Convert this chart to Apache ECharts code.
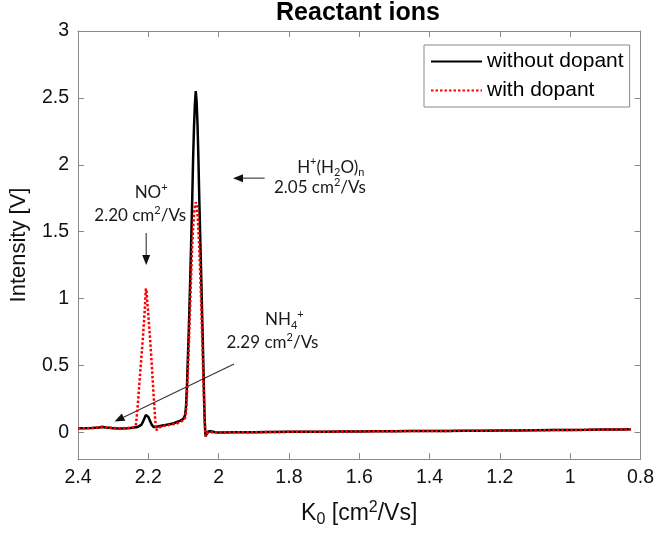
<!DOCTYPE html>
<html><head><meta charset="utf-8">
<script src="https://cdn.jsdelivr.net/npm/echarts@6/dist/echarts.min.js"></script>
<style>html,body{margin:0;padding:0;background:#fff}#c{width:657px;height:534px}</style>
</head><body><div id="c"></div>
<script>
// K0 values (cm^2/Vs)
const kValues = [
  2.40, 2.38, 2.36, 2.34, 2.33, 2.32, 2.30, 2.28, 2.26, 2.25,
  2.245, 2.24, 2.235, 2.23, 2.225, 2.22, 2.215, 2.21, 2.207, 2.205,
  2.20, 2.195, 2.19, 2.185, 2.18, 2.177, 2.17, 2.16, 2.15, 2.14,
  2.13, 2.12, 2.11, 2.10, 2.095, 2.0925, 2.09, 2.0875, 2.085, 2.0825,
  2.08, 2.0775, 2.075, 2.0725, 2.07, 2.0675, 2.065, 2.0625, 2.06, 2.0575,
  2.055, 2.0525, 2.05, 2.0475, 2.045, 2.0425, 2.04, 2.0375, 2.035, 2.0325,
  2.03, 2.0275, 2.025, 2.0225, 2.02, 2.01, 2.00, 1.95, 1.90, 1.85,
  1.80, 1.75, 1.70, 1.65, 1.60, 1.55, 1.50, 1.45, 1.40, 1.35,
  1.30, 1.25, 1.20, 1.15, 1.10, 1.05, 1.00, 0.95, 0.90, 0.85, 0.827
];
// Intensity [V] without dopant (black solid)
const withoutDopant = [
  0.030, 0.030, 0.032, 0.035, 0.040, 0.036, 0.030, 0.028, 0.030, 0.032,
  0.034, 0.036, 0.038, 0.040, 0.045, 0.055, 0.080, 0.110, 0.130, 0.130,
  0.115, 0.085, 0.055, 0.040, 0.035, 0.040, 0.045, 0.050, 0.055, 0.060,
  0.065, 0.075, 0.085, 0.100, 0.130, 0.200, 0.350, 0.550, 0.750, 0.980,
  1.220, 1.480, 1.750, 2.050, 2.280, 2.450, 2.550, 2.470, 2.300, 2.050,
  1.750, 1.480, 1.220, 0.950, 0.680, 0.400, 0.120, -0.030, -0.040, -0.020,
  0.005, 0.015, 0.015, 0.008, 0.000, 0.000, -0.002, 0.000, 0.000, 0.002,
  0.003, 0.004, 0.004, 0.005, 0.006, 0.007, 0.008, 0.009, 0.010, 0.010,
  0.011, 0.012, 0.013, 0.014, 0.015, 0.016, 0.017, 0.018, 0.020, 0.021, 0.022
];
// Intensity [V] with dopant (red dotted)
const withDopant = [
  0.030, 0.030, 0.032, 0.038, 0.042, 0.036, 0.032, 0.030, 0.032, 0.034,
  0.036, 0.040, 0.060, 0.200, 0.380, 0.550, 0.720, 0.920, 1.075, 1.050,
  0.880, 0.700, 0.500, 0.280, 0.080, 0.015, 0.035, 0.045, 0.050, 0.055,
  0.060, 0.065, 0.075, 0.090, 0.110, 0.160, 0.280, 0.450, 0.620, 0.820,
  1.020, 1.220, 1.400, 1.530, 1.630, 1.690, 1.720, 1.700, 1.630, 1.520,
  1.380, 1.200, 1.000, 0.780, 0.550, 0.320, 0.100, -0.030, -0.040, -0.020,
  0.000, 0.005, 0.005, 0.000, -0.005, 0.000, 0.000, 0.000, 0.000, 0.002,
  0.003, 0.004, 0.004, 0.005, 0.006, 0.007, 0.008, 0.009, 0.010, 0.010,
  0.011, 0.012, 0.013, 0.014, 0.015, 0.016, 0.017, 0.018, 0.020, 0.021, 0.022
];
const yTicks = [0, 0.5, 1, 1.5, 2, 2.5, 3];
const seriesNames = ['without dopant', 'with dopant'];

// annotations: text lines anchored in data coordinates [K0, intensity]
const annotationTexts = [
  { text: 'H{sup|+}(H{sub|2}O){sub|n}', at: [1.681, 1.98] },
  { text: '2.05 cm{sup|2}/Vs', at: [1.712, 1.83] },
  { text: 'NO{sup|+}', at: [2.192, 1.79] },
  { text: '2.20 cm{sup|2}/Vs', at: [2.223, 1.62] },
  { text: 'NH{sub|4}{sup|+}', at: [1.813, 0.84] },
  { text: '2.29 cm{sup|2}/Vs', at: [1.847, 0.67] }
];
const annotationArrows = [
  { from: [1.869, 1.90], to: [1.959, 1.90] },
  { from: [2.206, 1.49], to: [2.206, 1.25] },
  { from: [1.956, 0.51], to: [2.296, 0.08] }
];

const FONT = 'Liberation Sans, Arial, Helvetica, sans-serif';
const AXC = '#8a8a8a';
const chart = echarts.init(document.getElementById('c'));

function xAx(pos, extra) {
  return Object.assign({
    type: 'value', min: 0.8, max: 2.4, interval: 0.2, inverse: true, position: pos,
    axisLine: { show: true, onZero: false, lineStyle: { color: AXC, width: 1 } },
    axisTick: { show: true, inside: true, length: 6, lineStyle: { color: AXC } },
    splitLine: { show: false },
    axisLabel: { show: false }
  }, extra);
}
function yAx(pos, extra) {
  return Object.assign({
    type: 'value', min: -0.2, max: 3, position: pos,
    axisLine: { show: true, onZero: false, lineStyle: { color: AXC, width: 1 } },
    axisTick: { show: true, inside: true, length: 6, customValues: yTicks, lineStyle: { color: AXC } },
    splitLine: { show: false },
    axisLabel: { show: false, customValues: yTicks }
  }, extra);
}

chart.setOption({
  animation: false,
  backgroundColor: '#fff',
  title: {
    text: 'Reactant ions', left: 358, top: 1, padding: 0, textAlign: 'center',
    textStyle: { fontFamily: FONT, fontSize: 25, fontWeight: 'bold', color: '#000' }
  },
  legend: {
    data: seriesNames, orient: 'vertical', left: 424, top: 45,
    padding: [6, 6, 6, 6], itemWidth: 51, itemHeight: 20, itemGap: 8,
    borderColor: AXC, borderWidth: 1, backgroundColor: '#fff',
    itemStyle: { opacity: 0 },
    textStyle: { fontFamily: FONT, fontSize: 21, color: '#000' }
  },
  grid: { left: 73, right: 14, top: 31, bottom: 75 },
  xAxis: [
    xAx('bottom', {
      axisLabel: { show: true, fontFamily: FONT, fontSize: 19.5, color: '#111', margin: 9 },
      name: 'K{sub|0} [cm{sup|2}/Vs]', nameLocation: 'middle', nameGap: 41,
      nameTextStyle: {
        fontFamily: FONT, fontSize: 23, color: '#111', lineHeight: 28,
        rich: {
          sub: { fontFamily: FONT, fontSize: 16, color: '#111', verticalAlign: 'bottom', lineHeight: 14 },
          sup: { fontFamily: FONT, fontSize: 16, color: '#111', verticalAlign: 'top', lineHeight: 14 }
        }
      }
    }),
    xAx('top', {})
  ],
  yAxis: [
    yAx('left', {
      axisLabel: { show: true, customValues: yTicks, fontFamily: FONT, fontSize: 19.5, color: '#111', margin: 9 },
      name: 'Intensity [V]', nameLocation: 'middle', nameGap: 48,
      nameTextStyle: { fontFamily: FONT, fontSize: 22, color: '#111' }
    }),
    yAx('right', {})
  ],
  series: [
    {
      name: seriesNames[0], type: 'line', xAxisIndex: 0, yAxisIndex: 0,
      data: kValues.map((k, i) => [k, withoutDopant[i]]),
      symbol: 'none', showSymbol: false, smooth: false,
      lineStyle: { color: '#000', width: 2.5 }, itemStyle: { color: '#000' }
    },
    {
      name: seriesNames[1], type: 'line', xAxisIndex: 0, yAxisIndex: 0,
      data: kValues.map((k, i) => [k, withDopant[i]]),
      symbol: 'none', showSymbol: false, smooth: false,
      lineStyle: { color: '#ff0000', width: 2.5, type: [2.5, 2], cap: 'butt' }, itemStyle: { color: '#ff0000' }
    }
  ]
});

// annotations
const toPx = (p) => chart.convertToPixel({ xAxisIndex: 0, yAxisIndex: 0 }, p);
const richStyle = {
  sup: { fontFamily: 'Lato', fontSize: 11, fill: '#1a1a1a', verticalAlign: 'top', lineHeight: 13 },
  sub: { fontFamily: 'Lato', fontSize: 11, fill: '#1a1a1a', verticalAlign: 'bottom', lineHeight: 13 }
};
const graphics = [];
annotationTexts.forEach(a => {
  const p = toPx(a.at);
  graphics.push({
    type: 'text', x: p[0], y: p[1], silent: true,
    style: {
      text: a.text, fontFamily: 'Lato', fontSize: 17, lineHeight: 22, fill: '#1a1a1a',
      align: 'center', verticalAlign: 'middle', rich: richStyle
    }
  });
});
annotationArrows.forEach(a => {
  const p1 = toPx(a.from), p2 = toPx(a.to);
  const dx = p2[0] - p1[0], dy = p2[1] - p1[1];
  const L = Math.sqrt(dx * dx + dy * dy), ux = dx / L, uy = dy / L;
  const hl = 10, hw = 4;
  const bx = p2[0] - ux * hl, by = p2[1] - uy * hl;
  graphics.push({
    type: 'line', silent: true,
    shape: { x1: p1[0], y1: p1[1], x2: bx, y2: by },
    style: { stroke: '#333', lineWidth: 1.1 }
  });
  graphics.push({
    type: 'polygon', silent: true,
    shape: { points: [[p2[0], p2[1]], [bx - uy * hw, by + ux * hw], [bx + uy * hw, by - ux * hw]] },
    style: { fill: '#111' }
  });
});
chart.setOption({ graphic: graphics });
</script>
</body></html>
